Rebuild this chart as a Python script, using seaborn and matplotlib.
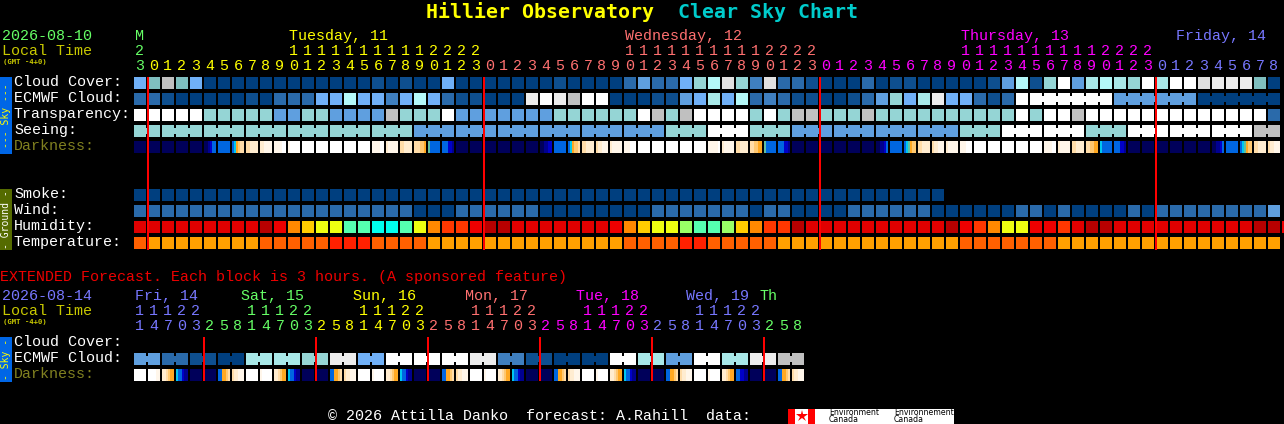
import numpy as np
import matplotlib
matplotlib.use("Agg")
import matplotlib.pyplot as plt
import seaborn as sns
from matplotlib.colors import ListedColormap
from matplotlib.patches import Rectangle

W, H = 1284, 424
PX = 72 / 100  # one pixel in points
FONT = "Liberation Mono"

SKY_COLORS = {"A": "#003f7f", "B": "#0e4f8f", "C": "#2a6aaa", "D": "#3f7fbf", "E": "#5f9fdf",
              "F": "#70b0f7", "G": "#7fbfbf", "H": "#95d5d5", "N": "#a8e8e8", "I": "#b4f8f8",
              "J": "#c0c0c0", "K": "#e0e0e0", "L": "#ececec", "M": "#ffffff"}
HUMIDITY_COLORS = {"d": "#b80000", "r": "#e00000", "R": "#ee0000", "o": "#ff3700", "O": "#ff8800",
                   "a": "#ffcc00", "y": "#eeff11", "l": "#99ff66", "m": "#55ffb0", "c": "#00ffee"}
TEMP_COLORS = {"v": "#ff2000", "u": "#ff6000", "t": "#ffa000"}
DARK_COLORS = ["#00005a", "#000090", "#0000c8", "#0066e0", "#00c8f0", "#60c0a0",
               "#ffa822", "#ffc870", "#ffdca8", "#ffecd0", "#fff6ea", "#ffffff"]

cloud_cover = list("FGJGFAAAAAAAAAAAABABAAFAAAAAAABAAAACECCFHIKHDKCCBAAACABBAAAAABEIBHMENINHMNMMKLLLGA")
ecmwf_cloud = list("CCBAAAAABACCCFFIFFDFIFCBBAAALMLJMMAAABBEFNFICDCBBAABCEHFNLFFCBCMMMMMMMEEEEEEAAAAAA")
transparency = list("MMMMMHHHHHEEHHEEEEJHHHMEEEEEEEHHHHHHMJHJMMMMHMHJJHHHJHHHHHHHHHHMHMMJMMMMMMMMMMMMMC")
seeing = list("HHHHHHHHHHHHHHHHHHHHEEEEEEEEEEEEEEEEEEHHHMMMHHHEEEEEEEEEEEEHHHMMMMMMHHHMMMMMMMMMJJ")
smoke = list("AAAAAAAAAAAAAAAAAAAAAAAAAAAAAAAAAAAAAAAAAAAAAAAAAAAAAAAAAA")
wind = list("CCCCCCCCCCCCCCCCCCCCAAACCCCCCAAAAAAAACCCCCCCACCAAAACCCCCCAAAAAACCACAAAACACCCCCCCCE")
humidity = list("rrrrrrrrrdROayymmccmyOooRddrrrrrrrROayylmmlaOoodrrrrrrrrrrdRoOyyRRorddrrrrrrrrrrddR")
temperature = list("uttttttttuuuuuvvvuuuuttttttttttttttuuuuvvuuuuutttttttttttttuuuuuuutttttttttttttttt")
darkness = ["000000", "000000", "000000", "000000", "000000", "001233", "333333", "346788", "889999", "99aaaa",
            "aaaabb", "abbbbb", "bbbbbb", "bbbbbb", "bbbbbb", "bbbbbb", "bbbbbb", "aaaabb", "9aaaaa", "889999",
            "888776", "533333", "333221", "000000", "000000", "000000", "000000", "000000", "000000", "001122",
            "333333", "346778", "889999", "899aaa", "9aaaaa", "aaabbb", "bbbbbb", "bbbbbb", "bbbbbb", "bbbbbb",
            "bbbbbb", "aaaaab", "9aaaaa", "889999", "887766", "533333", "333221", "000000", "000000", "000000",
            "000000", "000000", "000000", "001123", "333333", "345677", "889999", "899aaa", "9aaaaa", "aaabbb",
            "bbbbbb", "bbbbbb", "bbbbbb", "bbbbbb", "bbbbbb", "aaaabb", "9aaaaa", "889999", "887766", "433333",
            "333221", "000000", "000000", "000000", "000000", "000000", "000000", "001123", "333333", "345677",
            "889999", "899aaa"]
hours = [23] + list(range(24)) + list(range(24)) + list(range(24)) + [0, 1, 2, 3, 4, 5, 6, 7, 8]
hour_colors = ["#66ff66"] + ["#ffff00"] * 24 + ["#ff7070"] * 24 + ["#ff00ff"] * 24 + ["#7777ff"] * 9
day_labels = ["M", "Tuesday, 11", "Wednesday, 12", "Thursday, 13", "Friday, 14"]
day_cols = [0.05, 11.07, 35.07, 59.07, 74.43]
day_colors = ["#66ff66", "#ffff00", "#ff7070", "#ff00ff", "#7777ff"]
ecmwf_groups = [1] * 64 + [6, 6, 6]
seeing_groups = [2] + [3] * 26 + [2]

ext_ecmwf = list("EECCBBAANNNNHHLLFFMMMMMMLLDDBBAAAAMMNNEEMMNNLLJJ")
ext_darkness = ["bbbbbb", "bbbbaa", "998766", "433211", "000000", "000000", "336678", "899aaa",
                "bbbbbb", "abbbbb", "998766", "433211", "000000", "000000", "336678", "899aaa",
                "bbbbbb", "abbbbb", "998766", "433211", "000000", "000000", "336678", "899aaa",
                "bbbbbb", "abbbbb", "998766", "433211", "000000", "000000", "336678", "899aaa",
                "bbbbbb", "abbbbb", "998766", "433211", "000000", "000000", "336678", "899aaa",
                "bbbbbb", "abbbbb", "998766", "332211", "000000", "000000", "336678", "899aaa"]
ext_hours = [11, 14, 17, 20, 23] + [2, 5, 8, 11, 14, 17, 20, 23] * 5 + [2, 5, 8]
ext_hour_colors = ["#7777ff"] * 5 + ["#66ff66"] * 8 + ["#ffff00"] * 8 + ["#ff7070"] * 8 + ["#ff00ff"] * 8 + ["#7777ff"] * 8 + ["#66ff66"] * 3
ext_day_labels = ["Fri, 14", "Sat, 15", "Sun, 16", "Mon, 17", "Tue, 18", "Wed, 19", "Th"]
ext_day_cols = [0.05, 7.64, 15.64, 23.64, 31.57, 39.43, 44.71]
ext_day_colors = ["#7777ff", "#66ff66", "#ffff00", "#ff7070", "#ff00ff", "#7777ff", "#66ff66"]
ext_groups = [2] * 24


fig = plt.figure(figsize=(W / 100, H / 100), dpi=100, facecolor="black")


def px_axes(left, top, width, height):
    ax = fig.add_axes([left / W, 1 - (top + height) / H, width / W, height / H])
    ax.set_facecolor("none")
    return ax


def strip_heatmap(strips, colors, n_blocks, top):
    # each block is 6 two-pixel strips plus one empty strip for the gap
    ax = px_axes(134, top, 14 * n_blocks, 12)
    sns.heatmap(np.array([strips]), cmap=ListedColormap(colors), vmin=-0.5, vmax=len(colors) - 0.5,
                cbar=False, xticklabels=False, yticklabels=False, ax=ax)
    return ax


def draw_row(values, colors, top, groups=None):
    keys = list(colors)
    strips = []
    for v in values:
        strips += [keys.index(v)] * 6 + [np.nan]
    ax = strip_heatmap(strips, list(colors.values()), len(values), top)
    # blocks of one forecast step are joined by a small bridge
    if groups:
        start = 0
        for size in groups:
            for col in range(start + 1, start + size):
                ax.hlines(0.5, 7 * col - 1.1, 7 * col + 0.1, colors=colors[values[col]], linewidth=6 * PX)
            start += size


def draw_darkness(values, top):
    strips = []
    for block in values:
        strips += [int(c, 16) for c in block] + [np.nan]
    strip_heatmap(strips, DARK_COLORS, len(values), top)


def draw_header(hour_list, color_list, labels, cols, label_colors, y_day, y_tens, y_hour):
    ax = px_axes(134, y_day - 12, 14 * len(hour_list), y_hour - y_day + 20)
    ax.set_xlim(0, len(hour_list))
    ax.set_ylim(y_hour + 8, y_day - 12)
    ax.axis("off")
    for i, (hour, color) in enumerate(zip(hour_list, color_list)):
        ax.text(i + 0.42, y_hour, str(hour % 10), color=color, ha="center", va="baseline", family=FONT, fontsize=10.8)
        if hour >= 10:
            ax.text(i + 0.42, y_tens, str(hour // 10), color=color, ha="center", va="baseline", family=FONT, fontsize=10.8)
    for label, col, color in zip(labels, cols, label_colors):
        ax.text(col, y_day, label, color=color, ha="left", va="baseline", family=FONT, fontsize=10.8)


def draw_day_lines(hour_list, top, height):
    ax = px_axes(134, top, 14 * len(hour_list), height)
    ax.set_xlim(0, len(hour_list))
    ax.set_ylim(0, 1)
    ax.axis("off")
    for i in range(1, len(hour_list)):
        if hour_list[i] < hour_list[i - 1]:
            ax.axvspan(i - 1 / 14, i + 1 / 14, color="#ff0000", linewidth=0)


draw_row(cloud_cover, SKY_COLORS, 77)
draw_row(ecmwf_cloud, SKY_COLORS, 93, ecmwf_groups)
draw_row(transparency, SKY_COLORS, 109)
draw_row(seeing, SKY_COLORS, 125, seeing_groups)
draw_darkness(darkness, 141)
draw_row(smoke, SKY_COLORS, 189)
draw_row(wind, SKY_COLORS, 205)
draw_row(humidity, HUMIDITY_COLORS, 221)
draw_row(temperature, TEMP_COLORS, 237)
draw_row(ext_ecmwf, SKY_COLORS, 353, ext_groups)
draw_darkness(ext_darkness, 369)

draw_header(hours, hour_colors, day_labels, day_cols, day_colors, 40, 55, 70)
draw_header(ext_hours, ext_hour_colors, ext_day_labels, ext_day_cols, ext_day_colors, 300, 315, 330)
draw_day_lines(hours, 77, 173)
draw_day_lines(ext_hours, 337, 44)

# everything else is placed in pixels on a page axes
page = px_axes(0, 0, W, H)
page.set_xlim(0, W)
page.set_ylim(H, 0)
page.axis("off")


def label(x, y, s, color="white", size=10.8, family=FONT, **kw):
    page.text(x, y, s, color=color, fontsize=size, family=family, va="baseline", **kw)


label(426, 18.5, "Hillier Observatory", "#ffff00", 14.35, "DejaVu Sans Mono", weight="bold")
label(678, 18.5, "Clear Sky Chart", "#00cccc", 14.35, "DejaVu Sans Mono", weight="bold")

label(2, 40, "2026-08-10", "#66ff66")
label(2, 55, "Local Time", "#c8c800")
label(3, 64, "(GMT -4+0)", "#c8c800", 5.2, "DejaVu Sans Mono", weight="bold")
for y, name in zip([86, 102, 118, 134], ["Cloud Cover:", "ECMWF Cloud:", "Transparency:", "Seeing:"]):
    label(14, y, name)
label(14, 150, "Darkness:", "#808020")
for y, name in zip([198, 214, 230, 246], ["Smoke:", "Wind:", "Humidity:", "Temperature:"]):
    label(14, y, name)

label(0, 281, "EXTENDED Forecast. Each block is 3 hours. (A sponsored feature)", "#ee0000")
label(2, 300, "2026-08-14", "#7777ff")
label(2, 315, "Local Time", "#c8c800")
label(3, 324, "(GMT -4+0)", "#c8c800", 5.2, "DejaVu Sans Mono", weight="bold")
label(14, 346, "Cloud Cover:")
label(14, 362, "ECMWF Cloud:")
label(14, 378, "Darkness:", "#808020")

for top, height, color, text, tcolor in [(77, 77, "#0066e6", "--- Sky ---", "#ffff00"),
                                         (189, 61, "#556b00", "- Ground -", "white"),
                                         (337, 45, "#0066e6", "- Sky -", "#ffff00")]:
    page.add_patch(Rectangle((0, top), 12, height, color=color, linewidth=0))
    page.text(6, top + height / 2, text, color=tcolor, fontsize=7, family="DejaVu Sans Mono", rotation=90,
              ha="center", va="center")

label(328, 420, "\u00a9 2026 Attilla Danko  forecast: A.Rahill  data:")

# Environment Canada logo
page.add_patch(Rectangle((788, 409), 166, 15, color="white", linewidth=0))
page.add_patch(Rectangle((788, 409), 7, 15, color="#ff0000", linewidth=0))
page.add_patch(Rectangle((808, 409), 7, 15, color="#ff0000", linewidth=0))
page.plot([801.5], [416], marker="*", markersize=9, color="#ff0000", markeredgewidth=0)
for x, name in [(829, "Environment"), (894, "Environnement")]:
    page.text(x, 412.5, name, color="black", fontsize=5.6, family="DejaVu Sans", va="center")
    page.text(x, 419.5, "Canada", color="black", fontsize=5.6, family="DejaVu Sans", va="center")

fig.savefig("out.png", dpi=100, facecolor="black")
